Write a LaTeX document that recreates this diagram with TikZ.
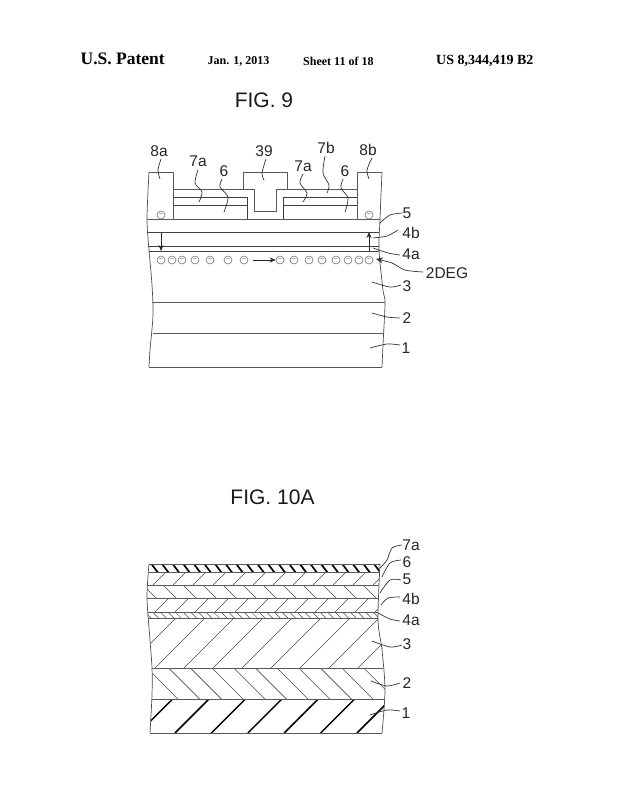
\documentclass[tikz,border=0pt]{standalone}
\usepackage{fontspec}
\setmainfont{Liberation Sans}
\newfontfamily\serifb[BoldFont=Liberation Serif Bold]{Liberation Serif}
\usetikzlibrary{arrows.meta}
\newcommand{\lab}[4]{\node[lbl] (#1) at (#2,#3) {#4};}
\newcommand{\fs}[1]{\fontsize{#1}{#1}\selectfont}
\tikzset{
 lbl/.style={inner sep=0pt,font=\fs{15.5},text=black!85},
 head/.style={inner sep=0pt,font=\serifb\bfseries\fs{12},text=black},
 figt/.style={inner sep=0pt,font=\fs{21},text=black!90},
 lay/.style={line width=0.9pt,draw=black!65},
 solidl/.style={line width=0.8pt,draw=black!75},
 edge/.style={line width=0.7pt,draw=black!70},
 lead/.style={line width=0.7pt,draw=black!80},
 elec/.style={circle,draw=black!55,line width=0.6pt,minimum size=8pt,inner sep=0pt,font=\fs{7},text=black!70},
 arr/.style={line width=0.8pt,draw=black!85,-{Stealth[length=6pt,width=5pt]}},
 hatch/.style={line width=0.6pt,draw=black!70},
 hatchk/.style={line width=1.7pt,draw=black},
}
\begin{document}
\begin{tikzpicture}[x=1pt,y=-1pt]
\useasboundingbox (0,0) rectangle (621,800);
% header
\node[head,font=\serifb\bfseries\fs{17.5},anchor=west] (h1) at (80.5,59) {U.S. Patent};
\node[head,anchor=west] (h2) at (207.5,61) {Jan. 1, 2013};
\node[head,anchor=west] (h3) at (303,61) {Sheet 11 of 18};
\node[head,font=\serifb\bfseries\fs{14},anchor=west] (h4) at (436,61) {US 8,344,419 B2};
\node[figt] (f9) at (264,100) {FIG. 9};
\node[figt] (f10) at (272.5,497) {FIG. 10A};

%% FIG 9
\draw[edge] plot[smooth] coordinates {(149,172) (147,219) (149,250) (152,285) (153,315) (150,350) (149,367)};
\draw[edge] plot[smooth] coordinates {(382,172) (380,219) (379,250) (383,290) (385,303) (383,345) (382,367)};
\draw[lay] (149,172) -- (173,172) -- (173,219);
\draw[lay] (357,219) -- (357,172) -- (382,172);
\draw[lay] (147,219) -- (380,219);
\draw[solidl] (147.5,232) -- (379,232);
\draw[solidl] (148,246) -- (379,246);
\draw[solidl] (148.5,251.5) -- (379,251.5);
\draw[lay] (152,302) -- (385,302);
\draw[lay] (153,333) -- (384,333);
\draw[lay] (149,367) -- (382,367);
\draw[lay] (173,189) -- (243,189) -- (243,172) -- (287,172) -- (287,189) -- (357,189);
\draw[lay] (243,189) -- (254,189) -- (254,211.5) -- (276,211.5) -- (276,189) -- (287,189);
\draw[solidl] (173,197) -- (247,197) -- (247,219);
\draw[solidl] (173,205) -- (247,205);
\draw[solidl] (357,197) -- (283,197) -- (283,219);
\draw[solidl] (357,205) -- (283,205);
% electrons
\foreach \x [count=\i] in {161,172,182,195,210,228,244,280,294,309,322,336,348,359,369}
  \node[elec] (e\i) at (\x,260) {−};
\node[elec] (ea) at (161,215) {−};
\node[elec] (eb) at (369,215) {−};
\coordinate (a1) at (161,233); \coordinate (a2) at (161,251);
\coordinate (b1) at (369,251); \coordinate (b2) at (369,232);
\draw[arr] (a1) -- (a2);
\draw[arr] (b1) -- (b2);
\draw[arr] (e7.east) ++(5,0) -- (e8.west);
% labels
\lab{l8a}{159}{151}{8a}\lab{l39}{264}{151}{39}\lab{l7b}{326}{148}{7b}\lab{l8b}{368}{150}{8b}
\lab{l7al}{198}{161}{7a}\lab{l6l}{224}{171}{6}\lab{l7ar}{303}{166}{7a}\lab{l6r}{345}{171}{6}
\lab{l5}{407}{213}{5}\lab{l4b}{411}{233}{4b}\lab{l4a}{411}{254}{4a}\lab{l2d}{447}{273}{2DEG}
\lab{l3}{407}{286}{3}\lab{l2}{407}{318}{2}\lab{l1}{406}{348}{1}
\draw[lead] plot[smooth] coordinates {(161,159) (158,170) (160,179)};
\draw[lead] plot[smooth] coordinates {(198,170) (195,183) (202,192) (199,202)};
\draw[lead] plot[smooth] coordinates {(222,179) (220,187) (228,197) (224,212)};
\draw[lead] plot[smooth] coordinates {(266,159) (262,173) (264,180)};
\draw[lead] plot[smooth] coordinates {(303,174) (300,183) (307,193) (303,202)};
\draw[lead] plot[smooth] coordinates {(325,156) (323,173) (329,185) (327,193)};
\draw[lead] plot[smooth] coordinates {(343,179) (341,188) (348,198) (345,212)};
\draw[lead] plot[smooth] coordinates {(372,158) (367,170) (369,179)};
\draw[lead] plot[smooth] coordinates {(l5.west) (390,215) (380,223)};
\draw[lead] plot[smooth] coordinates {(398,230) (387,236) (373,238)};
\draw[lead] plot[smooth] coordinates {(400,255) (388,253) (373,248)};
\coordinate (t2d) at (376,259);
\draw[lead,-{Stealth[length=7pt,width=6pt]}] plot[smooth] coordinates {(423,272) (405,270) (392,263) (t2d)};
\draw[lead] plot[smooth] coordinates {(401,285) (390,287) (372,282)};
\draw[lead] plot[smooth] coordinates {(400,318) (387,317) (372,313)};
\draw[lead] plot[smooth] coordinates {(400,345) (387,344) (370,348)};

%% FIG 10A
\def\lA{(149,564) (147,598) (150,640) (152,668) (152,695) (150,733)}
\def\rA{(382,733) (385,690) (382,650) (378,620) (380,564)}
\begin{scope}
\clip plot[smooth] coordinates {\lA} -- plot[smooth] coordinates {\rA} -- cycle;
\begin{scope}\clip (140,564) rectangle (390,572);
 \foreach \k in {0,...,21} \draw[hatchk] (150+\k*10.6,562) -- (159+\k*10.6,574);
\end{scope}
\begin{scope}\clip (140,572) rectangle (390,585);
 \foreach \k in {-1,...,12} \draw[hatch] (173+\k*20,585) -- (186+\k*20,572);
\end{scope}
\begin{scope}\clip (140,585) rectangle (390,598);
 \foreach \k in {-1,...,12} \draw[hatch] (163+\k*20,585) -- (176+\k*20,598);
\end{scope}
\begin{scope}\clip (140,598) rectangle (390,612);
 \foreach \k in {-1,...,12} \draw[hatch] (175+\k*20,612) -- (189+\k*20,598);
\end{scope}
\begin{scope}\clip (140,612) rectangle (390,618);
 \foreach \k in {0,...,32} \draw[hatch,line width=0.5pt] (145+\k*7.6,612) -- (151+\k*7.6,618);
\end{scope}
\begin{scope}\clip (140,618) rectangle (390,668);
 \foreach \k in {-1,...,9} \draw[hatch] (155+\k*29,668) -- (205+\k*29,618);
\end{scope}
\begin{scope}\clip (140,668) rectangle (390,699);
 \foreach \k in {0,...,11} \draw[hatch] (147+\k*21.67,668) -- (178+\k*21.67,699);
\end{scope}
\begin{scope}\clip (140,699) rectangle (390,733);
 \foreach \k in {-1,...,6} \draw[hatchk,line width=1.5pt] (175+\k*36.4,733) -- (209+\k*36.4,699);
\end{scope}
\end{scope}
\draw[edge] plot[smooth] coordinates {\lA};
\draw[edge] plot[smooth] coordinates {(380,564) (378,620) (382,650) (385,690) (382,733)};
\draw[lay] (149,564) -- (380,564);
\draw[lay] (148.5,572) -- (379.5,572);
\draw[lay] (148,585) -- (379,585);
\draw[lay] (147,598) -- (378.5,598);
\draw[lay] (147.5,612) -- (378,612);
\draw[lay] (148,618) -- (378,618);
\draw[lay] (152,668) -- (383,668);
\draw[lay] (152,699) -- (385,699);
\draw[lay] (150,733) -- (382,733);
\lab{m7a}{411}{545}{7a}\lab{m6}{407}{562}{6}\lab{m5}{407}{579}{5}\lab{m4b}{411}{599}{4b}
\lab{m4a}{411}{620}{4a}\lab{m3}{407}{644}{3}\lab{m2}{407}{683}{2}\lab{m1}{406}{713}{1}
\draw[lead] plot[smooth] coordinates {(402,545) (392,548) (387,560) (380,568)};
\draw[lead] plot[smooth] coordinates {(401,560) (390,563) (382,577)};
\draw[lead] plot[smooth] coordinates {(401,580) (390,580) (380,593)};
\draw[lead] plot[smooth] coordinates {(400,597) (388,598) (381,605)};
\draw[lead] plot[smooth] coordinates {(400,621) (390,619) (378,613)};
\draw[lead] plot[smooth] coordinates {(402,645) (390,647) (372,641)};
\draw[lead] plot[smooth] coordinates {(400,683) (387,686) (371,681)};
\draw[lead] plot[smooth] coordinates {(400,711) (387,710) (370,715)};
\end{tikzpicture}
\end{document}
